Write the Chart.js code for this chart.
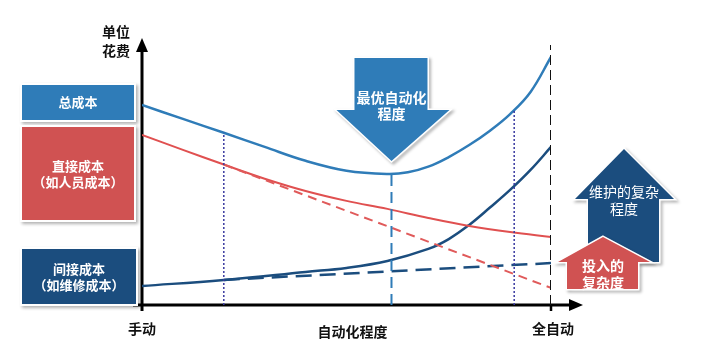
<!DOCTYPE html>
<html><head><meta charset="utf-8">
<script src="https://cdn.jsdelivr.net/npm/chart.js@4"></script>
<style>html,body{margin:0;padding:0;background:#fff}#wrap{width:706px;height:356px}</style>
</head><body><div id="wrap"><canvas id="c" width="706" height="356"></canvas></div>
<script>
// ---- data (abstract units: automation 0..100, unit cost 0..100) ----
const totalX = [0,10,20,30,40,50,60,65,70,75,80,85,90,95,100];
const totalCost = [74.9,69.7,64.5,59.2,54.0,50.3,49.1,49.7,51.8,55.4,59.9,65.2,71.5,79.8,92.9];
const directX = [0,10,20,30,40,50,60,70,80,90,100];
const directCost = [63.7,58.1,52.6,47.3,42.7,39.0,36.0,32.6,29.6,27.3,25.5];
const indirectX = [0,20,40,50,60,70,75,80,85,90,95,100];
const indirectCost = [7.1,9.4,12.4,13.9,16.5,21.0,24.7,30.0,36.4,43.1,50.6,59.2];
const trendX = [20,100];
const directTrend = [52.6,6.4];
const indirectTrend = [9.4,15.7];
const optimalX = 61;
const markerLeftX = 20, markerRightX = 91, fullAutoX = 100;
const xLabels = ['手动','自动化程度','全自动'];
const yLabel = ['单位','花费'];
const legendLabels = {total:['总成本'], direct:['直接成本','（如人员成本）'], indirect:['间接成本','（如维修成本）']};
const arrowLabels = {optimal:['最优自动化','程度'], maint:['维护的复杂','程度'], invest:['投入的','复杂度']};

const zip = (xs, ys) => xs.map((x,i)=>({x, y: ys[i]}));
const C_TOTAL='#2f7cb8', C_RED='#d9534f', C_DARK='#1b4d7e';
const FONT='"Noto Sans CJK SC","Noto Sans",sans-serif';

const line = (data, color, extra) => Object.assign({data, borderColor: color, borderWidth: 2, pointRadius: 0, fill: false, tension: 0.4}, extra||{});

const decor = {
  id: 'decor',
  beforeDatasetsDraw(chart){
    const ctx = chart.ctx, xs = chart.scales.x, ys = chart.scales.y;
    const x0 = xs.getPixelForValue(0), y0 = ys.getPixelForValue(0);
    const yTop = ys.getPixelForValue(100), xEnd = xs.getPixelForValue(100);
    ctx.save();
    ctx.strokeStyle = '#000'; ctx.fillStyle = '#000'; ctx.lineWidth = 3;
    ctx.beginPath(); ctx.moveTo(x0, y0+6); ctx.lineTo(x0, yTop+12); ctx.stroke();
    ctx.beginPath(); ctx.moveTo(x0-9, y0); ctx.lineTo(xEnd+20, y0); ctx.stroke();
    ctx.beginPath(); ctx.moveTo(x0, yTop); ctx.lineTo(x0-6, yTop+14); ctx.lineTo(x0+6, yTop+14); ctx.closePath(); ctx.fill();
    ctx.beginPath(); ctx.moveTo(xEnd+32, y0); ctx.lineTo(xEnd+18, y0-6); ctx.lineTo(xEnd+18, y0+6); ctx.closePath(); ctx.fill();
    ctx.lineWidth = 2.5;
    ctx.beginPath(); ctx.moveTo(xEnd, y0); ctx.lineTo(xEnd, y0+6); ctx.stroke();
    ctx.restore();
  },
  afterDraw(chart){
    const ctx = chart.ctx, xs = chart.scales.x, ys = chart.scales.y;
    const x0 = xs.getPixelForValue(0), y0 = ys.getPixelForValue(0);
    const xEnd = xs.getPixelForValue(100), yTop = ys.getPixelForValue(100);
    ctx.save();
    ctx.textAlign = 'center'; ctx.textBaseline = 'middle';
    ctx.fillStyle = '#111'; ctx.font = 'bold 14px '+FONT;
    ctx.fillText(yLabel[0], x0-26, yTop-6);
    ctx.fillText(yLabel[1], x0-26, yTop+13);
    ctx.fillText(xLabels[0], x0, y0+24);
    ctx.fillText(xLabels[1], (x0+xEnd)/2+6, y0+27);
    ctx.fillText(xLabels[2], xEnd+2, y0+24);

    const box = (x,y,w,h,color,lines,ly)=>{
      ctx.save();
      ctx.shadowColor='rgba(0,0,0,0.3)'; ctx.shadowBlur=3; ctx.shadowOffsetX=2; ctx.shadowOffsetY=2;
      ctx.fillStyle='#fff'; ctx.fillRect(x-2,y-2,w+4,h+4);
      ctx.restore();
      ctx.fillStyle=color; ctx.fillRect(x,y,w,h);
      ctx.fillStyle='#fff'; ctx.font='bold 13px '+FONT;
      lines.forEach((t,i)=>ctx.fillText(t, x+w/2, ly[i]));
    };
    box(22,85,112,35,C_TOTAL,legendLabels.total,[102]);
    box(22,127,112,93,'#d05252',legendLabels.direct,[166,182]);
    box(22,249,114,55,C_DARK,legendLabels.indirect,[269,285]);

    const poly = (pts,color)=>{
      ctx.save();
      ctx.beginPath(); pts.forEach((p,i)=> i?ctx.lineTo(p[0],p[1]):ctx.moveTo(p[0],p[1])); ctx.closePath();
      ctx.shadowColor='rgba(0,0,0,0.3)'; ctx.shadowBlur=3; ctx.shadowOffsetX=2; ctx.shadowOffsetY=2;
      ctx.strokeStyle='#fff'; ctx.lineWidth=3; ctx.stroke();
      ctx.restore();
      ctx.beginPath(); pts.forEach((p,i)=> i?ctx.lineTo(p[0],p[1]):ctx.moveTo(p[0],p[1])); ctx.closePath();
      ctx.fillStyle=color; ctx.fill();
    };
    const ox = xs.getPixelForValue(optimalX);
    poly([[ox-37,58],[ox+36,58],[ox+36,110],[ox+58,110],[ox,161],[ox-55,110],[ox-37,110]], C_TOTAL);
    ctx.fillStyle='#fff'; ctx.font='bold 14px '+FONT;
    ctx.fillText(arrowLabels.optimal[0], ox, 98);
    ctx.fillText(arrowLabels.optimal[1], ox, 114);
    poly([[624,149],[674,199],[659,199],[659,262],[588,262],[588,199],[575,199]], C_DARK);
    ctx.fillStyle='#fff'; ctx.font='14px '+FONT;
    ctx.fillText(arrowLabels.maint[0], 624, 192);
    ctx.fillText(arrowLabels.maint[1], 624, 209);
    poly([[603,237],[650,262],[638,262],[638,289],[567,289],[567,262],[558,262]], '#d05252');
    ctx.fillStyle='#fff'; ctx.font='bold 14px '+FONT;
    ctx.fillText(arrowLabels.invest[0], 603, 266);
    ctx.fillText(arrowLabels.invest[1], 603, 283);
    ctx.restore();
  }
};

new Chart(document.getElementById('c'), {
  type: 'line',
  data: { datasets: [
    line(zip([markerLeftX,markerLeftX],[0,64.5]), '#3a3aa0', {borderWidth:1.5, borderDash:[2,2], tension:0}),
    line(zip([markerRightX,markerRightX],[0,73]), '#3a3aa0', {borderWidth:1.5, borderDash:[2,2], tension:0}),
    line(zip([optimalX,optimalX],[0,49.2]), C_TOTAL, {borderWidth:2, borderDash:[11,6], tension:0}),
    line(zip([fullAutoX,fullAutoX],[0,97.4]), '#111', {borderWidth:2, borderDash:[10,5], tension:0}),
    line(zip(trendX, directTrend), '#e05a5a', {borderDash:[9,6], tension:0}),
    line(zip(trendX, indirectTrend), C_DARK, {borderWidth:2.5, borderDash:[16,8], tension:0}),
    line(zip(directX, directCost), '#e05050'),
    line(zip(indirectX, indirectCost), C_DARK, {borderWidth:2.5}),
    line(zip(totalX, totalCost), C_TOTAL, {borderWidth:2.5})
  ]},
  options: {
    responsive: false, animation: false, devicePixelRatio: 1,
    layout: { padding: { left: 142, right: 155, top: 38, bottom: 51 } },
    plugins: { legend: { display: false }, tooltip: { enabled: false } },
    scales: {
      x: { type: 'linear', min: 0, max: 100, display: false },
      y: { min: 0, max: 100, display: false }
    }
  },
  plugins: [decor]
});
</script></body></html>
